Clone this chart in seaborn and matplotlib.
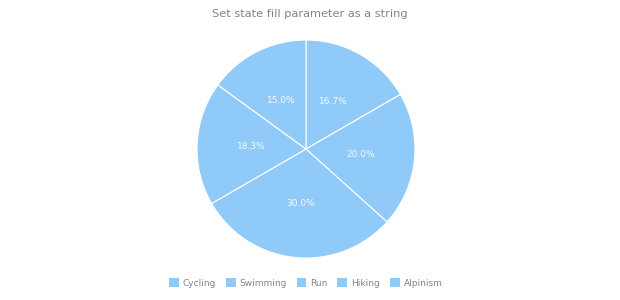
import matplotlib
matplotlib.use("Agg")
import matplotlib.pyplot as plt
import seaborn as sns
from matplotlib.patches import Patch

sns.set_theme(style="white")
plt.rcParams['font.family'] = ['DejaVu Sans']

categories = ["Cycling", "Swimming", "Run", "Hiking", "Alpinism"]
values = [10, 12, 18, 11, 9]
title = "Set state fill parameter as a string"

fill = "#90caf9"
text_grey = "#7c868e"

fig = plt.figure(figsize=(6.2, 3.0), dpi=100)
ax = fig.add_axes([197/620, 42/300, 218/620, 218/300])
colors = sns.color_palette([fill] * len(values))
wedges, texts, autotexts = ax.pie(
    values, colors=colors, startangle=90, counterclock=False,
    autopct="%.1f%%", pctdistance=0.5,
    wedgeprops=dict(edgecolor="white", linewidth=0.8),
    textprops=dict(color="#f4f9fe", fontsize=6.5),
)
ax.set_xlim(-1, 1)
ax.set_ylim(-1, 1)
ax.set_aspect("equal")
ax.axis("off")

fig.text(0.5, 1 - 14/300, title, ha="center", va="center", fontsize=8.2, color=text_grey)

handles = [Patch(facecolor=fill, edgecolor="none", label=c) for c in categories]
leg = fig.legend(handles=handles, loc="center", bbox_to_anchor=(0.493, 1 - 283/300),
                 ncol=5, frameon=False, fontsize=6.5, handlelength=1.1, handleheight=1.1,
                 handletextpad=0.45, columnspacing=1.05)
for t in leg.get_texts():
    t.set_color(text_grey)

fig.savefig("out.png", dpi=100, facecolor="white")
